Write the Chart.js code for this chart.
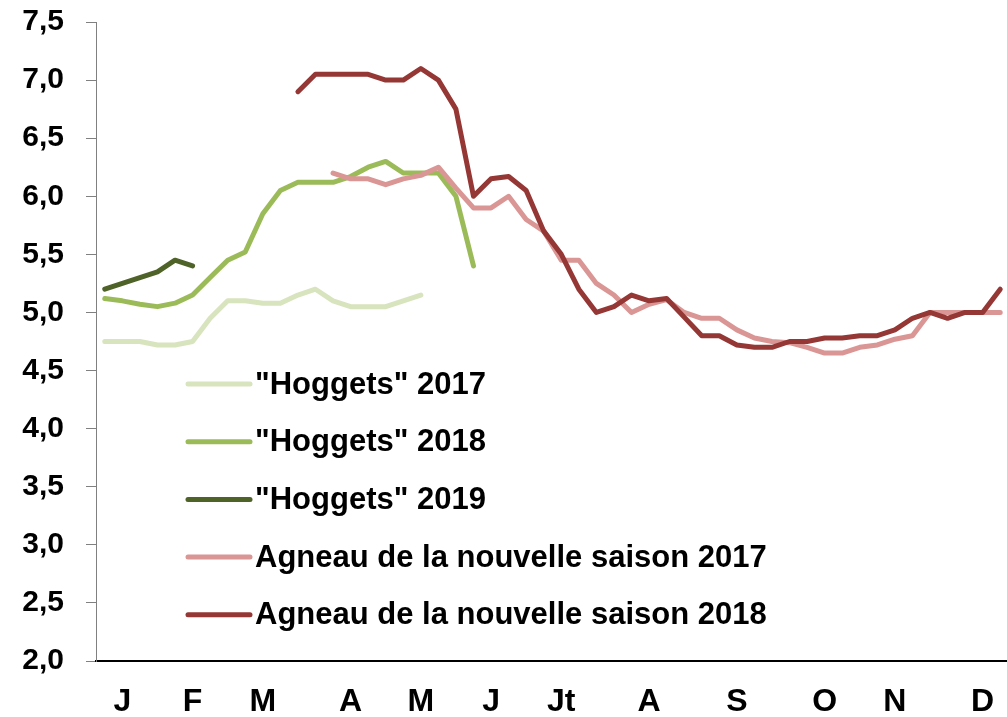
<!DOCTYPE html>
<html>
<head>
<meta charset="utf-8">
<script src="https://cdn.jsdelivr.net/npm/chart.js@4.4.1/dist/chart.umd.min.js"></script>
<style>
  html, body { margin: 0; padding: 0; background: #fff; overflow: hidden; }
  #wrap { position: relative; width: 1007px; height: 717px; overflow: hidden; }
  canvas { position: absolute; left: 0; top: 0; }
</style>
</head>
<body>
<div id="wrap"><canvas id="c" width="1009" height="717"></canvas></div>
<script>
// Week categories (52 weeks), with month initials on selected weeks
const weekLabels = ['', 'J', '', '', '', 'F', '', '', '', 'M', '', '', '', '', 'A', '', '', '', 'M', '', '', '', 'J', '', '', '', 'Jt', '', '', '', '', 'A', '', '', '', '', 'S', '', '', '', '', 'O', '', '', '', 'N', '', '', '', '', 'D', ''];

const seriesNames = ['"Hoggets" 2017', '"Hoggets" 2018', '"Hoggets" 2019', 'Agneau de la nouvelle saison 2017', 'Agneau de la nouvelle saison 2018'];
const seriesColors = ['#D7E4BD', '#9BBB59', '#4F6228', '#DA9694', '#953735'];

const hoggets2017 = [4.75, 4.75, 4.75, 4.72, 4.72, 4.75, 4.95, 5.10, 5.10, 5.08, 5.08, 5.15, 5.20, 5.10, 5.05, 5.05, 5.05, 5.10, 5.15];
const hoggets2018 = [5.12, 5.10, 5.07, 5.05, 5.08, 5.15, 5.30, 5.45, 5.52, 5.85, 6.05, 6.12, 6.12, 6.12, 6.17, 6.25, 6.30, 6.20, 6.20, 6.20, 6.00, 5.40];
const hoggets2019 = [5.20, 5.25, 5.30, 5.35, 5.45, 5.40];
const agneau2017 = [null, null, null, null, null, null, null, null, null, null, null, null, null,
  6.20, 6.15, 6.15, 6.10, 6.15, 6.18, 6.25, 6.07, 5.90, 5.90, 6.00, 5.80, 5.70, 5.45, 5.45, 5.25, 5.15, 5.00,
  5.07, 5.11, 5.00, 4.95, 4.95, 4.85, 4.78, 4.75, 4.74, 4.70, 4.65, 4.65, 4.70, 4.72, 4.77, 4.80, 5.00, 5.00,
  5.00, 5.00, 5.00];
const agneau2018 = [null, null, null, null, null, null, null, null, null, null, null,
  6.90, 7.05, 7.05, 7.05, 7.05, 7.00, 7.00, 7.10, 7.00, 6.75, 6.00, 6.15, 6.17, 6.05, 5.70, 5.50, 5.20, 5.00,
  5.05, 5.15, 5.10, 5.12, 4.96, 4.80, 4.80, 4.72, 4.70, 4.70, 4.75, 4.75, 4.78, 4.78, 4.80, 4.80, 4.85, 4.95,
  5.00, 4.95, 5.00, 5.00, 5.20];

const yMin = 2.0, yMax = 7.5, yStep = 0.5;

function pad(arr) {
  const out = arr.slice();
  while (out.length < weekLabels.length) out.push(null);
  return out;
}

const allSeries = [hoggets2017, hoggets2018, hoggets2019, agneau2017, agneau2018];
const datasets = allSeries.map((d, i) => ({
  label: seriesNames[i],
  data: pad(d),
  borderColor: seriesColors[i],
  backgroundColor: seriesColors[i],
  borderWidth: 5,
  borderCapStyle: 'round',
  borderJoinStyle: 'round',
  pointRadius: 0,
  tension: 0,
  spanGaps: false,
  order: allSeries.length - 1 - i
}));

const FONT = "'Liberation Sans', Arial, sans-serif";

const legendPlugin = {
  id: 'insideLegend',
  afterDraw(chart) {
    const ctx = chart.ctx;
    const x0 = 188, x1 = 250, tx = 255, y0 = 384, dy = 57.7;
    ctx.save();
    chart.data.datasets.forEach((ds, i) => {
      const y = y0 + i * dy;
      ctx.strokeStyle = ds.borderColor;
      ctx.lineWidth = 5;
      ctx.lineCap = 'round';
      ctx.beginPath();
      ctx.moveTo(x0, y);
      ctx.lineTo(x1, y);
      ctx.stroke();
      ctx.fillStyle = '#000';
      ctx.font = 'bold 31px ' + FONT;
      ctx.textAlign = 'left';
      ctx.textBaseline = 'middle';
      ctx.fillText(ds.label, tx, y + 1);
    });
    ctx.restore();
  }
};

new Chart(document.getElementById('c'), {
  type: 'line',
  data: { labels: weekLabels, datasets },
  plugins: [legendPlugin],
  options: {
    responsive: false,
    animation: false,
    devicePixelRatio: 1,
    layout: { padding: { top: 22, right: 0, bottom: 0, left: 0 } },
    plugins: { legend: { display: false }, tooltip: { enabled: false } },
    scales: {
      x: {
        type: 'category',
        offset: true,
        grid: { display: false, drawTicks: true, tickLength: 22 },
        border: { display: true, color: '#000', width: 2 },
        ticks: {
          autoSkip: false,
          maxRotation: 0,
          minRotation: 0,
          padding: 0,
          color: '#000',
          font: { family: FONT, size: 32, weight: 'bold' }
        },
        afterFit(scale) { scale.height = 56; scale.paddingLeft = 0; scale.paddingRight = 0; }
      },
      y: {
        min: yMin,
        max: yMax,
        grid: { drawOnChartArea: false, drawTicks: true, tickLength: 10, color: '#808080', tickColor: '#808080' },
        border: { display: true, color: '#808080', width: 1 },
        ticks: {
          stepSize: yStep,
          padding: 22,
          color: '#000',
          font: { family: FONT, size: 30, weight: 'bold' },
          callback: (v) => Number(v).toFixed(1).replace('.', ',')
        },
        afterFit(scale) { scale.width = 96; scale.paddingTop = 0; scale.paddingBottom = 0; }
      }
    }
  }
});
</script>
</body>
</html>
